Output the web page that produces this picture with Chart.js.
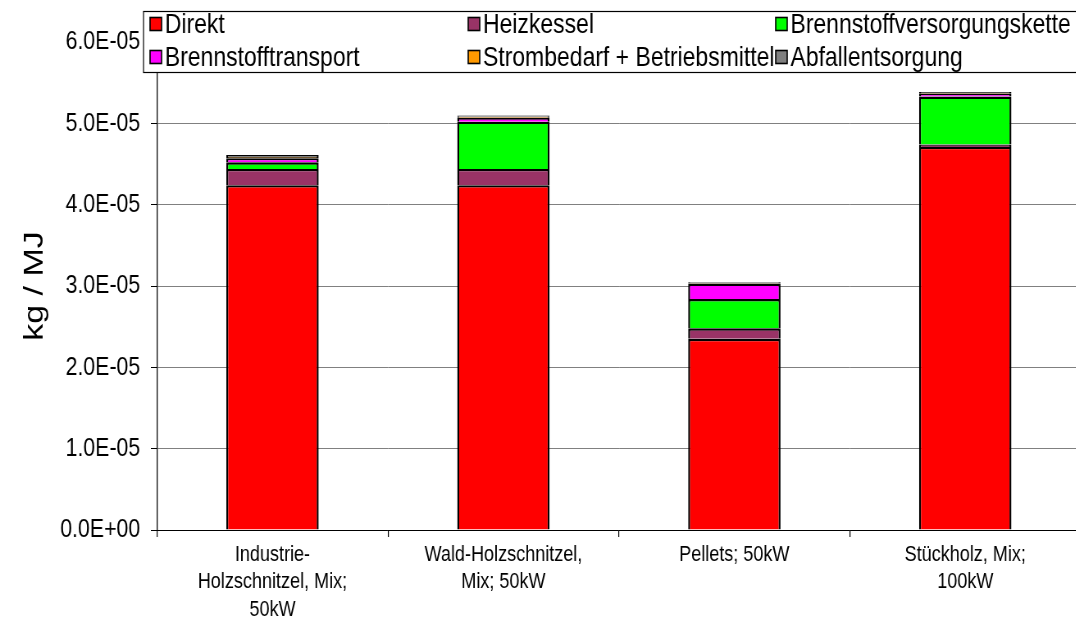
<!DOCTYPE html>
<html>
<head>
<meta charset="utf-8">
<script src="https://cdn.jsdelivr.net/npm/chart.js@4/dist/chart.umd.min.js"></script>
<style>
  html, body { margin: 0; padding: 0; background: #fff; overflow: hidden; }
  #wrap { width: 1084px; height: 631px; overflow: hidden; }
  /* the drawing surface is laid out wide and shown horizontally condensed */
  #c { width: 1084px; height: 631px; display: block; }
</style>
</head>
<body>
<div id="wrap"><canvas id="c" width="1322" height="631" style="width:1084px;height:631px"></canvas></div>
<script>
// Heizsysteme (Kategorien), mehrzeilig beschriftet
const categories = [
  ["Industrie-", "Holzschnitzel, Mix;", "50kW"],
  ["Wald-Holzschnitzel,", "Mix; 50kW"],
  ["Pellets; 50kW"],
  ["Stückholz, Mix;", "100kW"]
];

// Beiträge je Prozessstufe in kg / MJ
const direkt            = [4.24e-5, 4.24e-5, 2.35e-5, 4.71e-5];
const heizkessel        = [0.20e-5, 0.20e-5, 0.13e-5, 0.03e-5];
const versorgungskette  = [0.08e-5, 0.58e-5, 0.36e-5, 0.59e-5];
const transport         = [0.05e-5, 0.05e-5, 0.19e-5, 0.03e-5];
const strombedarf       = [0.015e-5, 0.01e-5, 0.01e-5, 0.01e-5];
const abfall            = [0.025e-5, 0.015e-5, 0.01e-5, 0.015e-5];

const seriesNames = ["Direkt", "Heizkessel", "Brennstoffversorgungskette",
                     "Brennstofftransport", "Strombedarf + Betriebsmittel", "Abfallentsorgung"];
const seriesColors = ["#FF0000", "#993366", "#00FF00", "#FF00FF", "#FF9900", "#808080"];
const seriesData = [direkt, heizkessel, versorgungskette, transport, strombedarf, abfall];

// Achsenwerte der y-Achse
const yTicks = [0, 1e-5, 2e-5, 3e-5, 4e-5, 5e-5, 6e-5];
const yTitle = "kg / MJ";

const FONT = "'Liberation Sans', Arial, sans-serif";

function sci(v) {
  const s = v.toExponential(1);              // e.g. "6.0e-5"
  const [m, e] = s.split("e");
  const sign = e[0] === "-" ? "-" : "+";
  const exp = e.replace(/^[-+]/, "").padStart(2, "0");
  return m + "E" + sign + exp;
}

// Boxed legend laid out in a fixed 3-column grid (canvas units)
const boxedLegend = {
  id: "boxedLegend",
  afterDraw(chart) {
    const ctx = chart.ctx;
    const boxLeft = 175, boxTop = 11.5, boxBottom = 72.5;
    ctx.save();
    ctx.strokeStyle = "#000";
    ctx.lineWidth = 1.2;
    ctx.fillStyle = "#fff";
    ctx.fillRect(boxLeft, boxTop, chart.width, boxBottom - boxTop);
    ctx.strokeRect(boxLeft, boxTop, chart.width, boxBottom - boxTop);
    const cols = [183, 571, 946];
    const rows = [24, 57];
    ctx.font = "28px " + FONT;
    ctx.textBaseline = "middle";
    chart.data.datasets.forEach((ds, i) => {
      const x = cols[i % 3];
      const y = rows[Math.floor(i / 3)];
      ctx.fillStyle = ds.backgroundColor;
      ctx.fillRect(x, y - 6.5, 14, 13);
      ctx.strokeStyle = "#000";
      ctx.lineWidth = 1.6;
      ctx.strokeRect(x, y - 6.5, 14, 13);
      ctx.fillStyle = "#000";
      ctx.fillText(ds.label, x + 18, y + 1);
    });
    ctx.restore();
  }
};

// Rotated y-axis title
const yAxisTitle = {
  id: "yAxisTitle",
  afterDraw(chart) {
    const ctx = chart.ctx;
    const area = chart.chartArea;
    ctx.save();
    ctx.translate(43, (area.top + area.bottom) / 2);
    ctx.rotate(-Math.PI / 2);
    ctx.font = "34px " + FONT;
    ctx.fillStyle = "#000";
    ctx.textAlign = "center";
    ctx.textBaseline = "middle";
    ctx.fillText(yTitle, 0, 0);
    ctx.restore();
  }
};

new Chart(document.getElementById("c"), {
  type: "bar",
  data: {
    labels: categories,
    datasets: seriesData.map((d, i) => ({
      label: seriesNames[i],
      data: d,
      backgroundColor: seriesColors[i],
      borderColor: "#000",
      borderWidth: 2.4,
      categoryPercentage: 1.0,
      barPercentage: 0.4
    }))
  },
  options: {
    responsive: false,
    animation: false,
    devicePixelRatio: 1,
    layout: { padding: { top: 42, right: 4, left: 0, bottom: 0 } },
    plugins: {
      legend: { display: false },
      tooltip: { enabled: false }
    },
    scales: {
      x: {
        stacked: true,
        grid: {
          display: true,
          offset: true,
          drawOnChartArea: false,
          drawTicks: true,
          tickLength: 7,
          lineWidth: 1.2,
          color: "#000"
        },
        border: { color: "#000", width: 1 },
        ticks: {
          color: "#000",
          font: { family: FONT, size: 22, lineHeight: 1.25 },
          padding: 4,
          maxRotation: 0,
          autoSkip: false
        },
        afterFit(scale) { scale.height = 101; }
      },
      y: {
        stacked: true,
        min: 0,
        max: 6e-5,
        afterBuildTicks(scale) { scale.ticks = yTicks.map(v => ({ value: v })); },
        grid: {
          color: "#808080",
          lineWidth: 1,
          drawTicks: true,
          tickLength: 7.5,
          tickColor: "#000"
        },
        border: { color: "#000", width: 1.3 },
        ticks: {
          color: "#000",
          font: { family: FONT, size: 26 },
          padding: 13,
          callback: (v) => sci(v)
        },
        title: { display: false },
        afterFit(scale) { scale.width = 191.5; }
      }
    }
  },
  plugins: [boxedLegend, yAxisTitle]
});
</script>
</body>
</html>
